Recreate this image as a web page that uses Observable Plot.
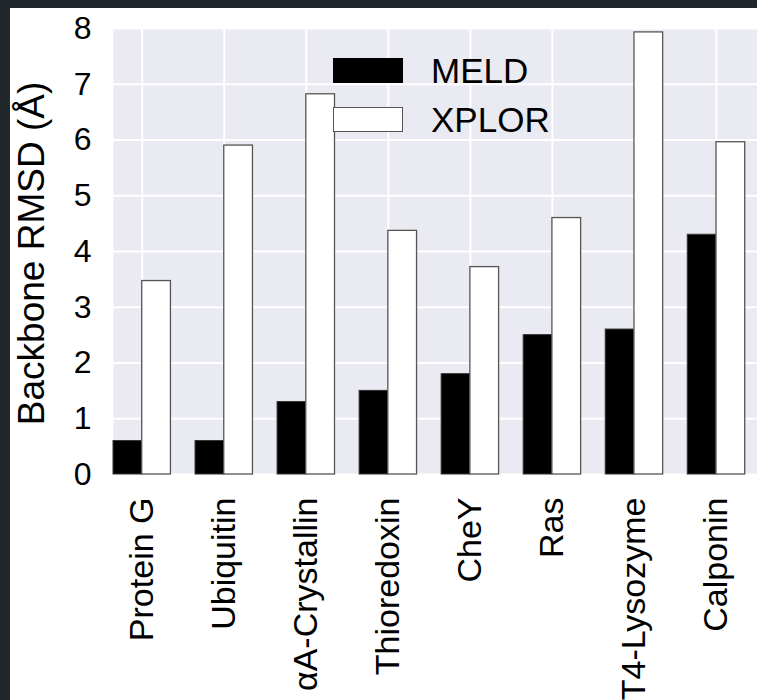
<!DOCTYPE html>
<html>
<head>
<meta charset="utf-8">
<script src="https://cdn.jsdelivr.net/npm/d3@7"></script>
<script src="https://cdn.jsdelivr.net/npm/@observablehq/plot@0.6"></script>
<style>
  html, body { margin: 0; padding: 0; width: 757px; height: 700px; overflow: hidden; background: #20282b; }
  #wrap { position: absolute; left: 10px; top: 8px; width: 747px; height: 692px; background: #ffffff; overflow: hidden; }
  .leg { position: absolute; font-family: "Liberation Sans", Arial, sans-serif; font-size: 35px; color: #000; line-height: 1; }
  .sw { position: absolute; box-sizing: border-box; }
</style>
</head>
<body>
<div id="wrap"></div>
<script>
const categories = ["Protein G", "Ubiquitin", "αA-Crystallin", "Thioredoxin", "CheY", "Ras", "T4-Lysozyme", "Calponin"];
const meld  = [0.6, 0.6, 1.3, 1.5, 1.8, 2.5, 2.6, 4.3];
const xplor = [3.47, 5.9, 6.82, 4.37, 3.72, 4.6, 7.93, 5.96];
const yTicks = [0, 1, 2, 3, 4, 5, 6, 7, 8];
const seriesNames = ["MELD", "XPLOR"];

const barW = 0.35;
const idx = categories.map((_, i) => i);
const rows = categories.map((c, i) => ({i, name: c, meld: meld[i], xplor: xplor[i]}));

const chart = Plot.plot({
  width: 747,
  height: 692,
  marginLeft: 103,
  marginRight: 0,
  marginTop: 20,
  marginBottom: 226,
  style: {fontFamily: "'Liberation Sans', Arial, sans-serif", background: "#ffffff", color: "#000", overflow: "visible"},
  x: {type: "linear", domain: [-0.35, 7.5]},
  y: {domain: [0, 8]},
  marks: [
    Plot.frame({fill: "#eaeaf2", stroke: null}),
    Plot.gridY({ticks: yTicks, stroke: "#ffffff", strokeOpacity: 1, strokeWidth: 2}),
    Plot.gridX({ticks: idx, stroke: "#ffffff", strokeOpacity: 1, strokeWidth: 2}),
    Plot.rectY(rows, {x1: d => d.i - barW, x2: d => d.i, y: "meld", fill: "#000000", stroke: "#333", strokeWidth: 1}),
    Plot.rectY(rows, {x1: d => d.i, x2: d => d.i + barW, y: "xplor", fill: "#ffffff", stroke: "#555", strokeWidth: 1.3}),
    Plot.axisY({ticks: yTicks, tickSize: 0, tickPadding: 22, fontSize: 32, label: null}),
    Plot.axisX({ticks: idx, tickFormat: i => categories[i], tickRotate: -90, tickSize: 0, tickPadding: 23, fontSize: 34, label: null}),
    Plot.text(["Backbone RMSD (Å)"], {frameAnchor: "left", textAnchor: "middle", rotate: -90, dx: -81, dy: 2, fontSize: 37})
  ]
});
const wrap = document.getElementById("wrap");
wrap.appendChild(chart);

// legend overlay (inside plot area, upper middle)
const legend = [
  {name: seriesNames[0], fill: "#000000", border: "none", top: 50},
  {name: seriesNames[1], fill: "#ffffff", border: "1.5px solid #555", top: 99}
];
legend.forEach(l => {
  const sw = document.createElement("div");
  sw.className = "sw";
  sw.style.left = "323px"; sw.style.top = l.top + "px";
  sw.style.width = "70px"; sw.style.height = "25px";
  sw.style.background = l.fill; sw.style.border = l.border;
  wrap.appendChild(sw);
  const t = document.createElement("div");
  t.className = "leg";
  t.textContent = l.name;
  t.style.left = "421px"; t.style.top = (l.top - 5) + "px";
  wrap.appendChild(t);
});
</script>
</body>
</html>
